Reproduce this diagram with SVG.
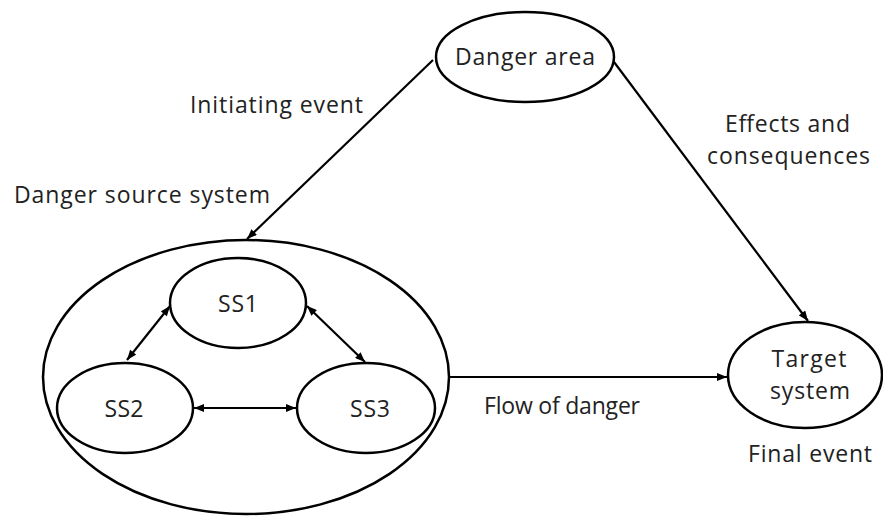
<svg xmlns="http://www.w3.org/2000/svg" width="883" height="516" viewBox="0 0 883 516">
<style>
.n{fill:#fff;stroke:#000;stroke-width:2.5}
.t{font-family:"Open Sans","Liberation Sans",Arial,sans-serif;font-size:23px;fill:#222}
.c{stroke:#000;stroke-width:2.2;fill:none}
</style>
<defs>
<marker id="a" viewBox="0 0 10 8" refX="10" refY="4" markerWidth="11" markerHeight="8" markerUnits="userSpaceOnUse" orient="auto-start-reverse">
<path d="M0,0 L10,4 L0,8 Z" fill="#000"/>
</marker>
</defs>
<rect width="883" height="516" fill="#fff"/>
<g id="danger-source-system">
<ellipse class="n" cx="246" cy="377" rx="203" ry="137"/>
</g>
<g id="ss1">
<ellipse class="n" cx="238" cy="303" rx="68" ry="45"/>
<text class="t" x="238" y="312" text-anchor="middle" textLength="40">SS1</text>
</g>
<g id="ss2">
<ellipse class="n" cx="125" cy="408" rx="68" ry="45"/>
<text class="t" x="124" y="417" text-anchor="middle" textLength="39">SS2</text>
</g>
<g id="ss3">
<ellipse class="n" cx="366" cy="408" rx="69" ry="45"/>
<text class="t" x="370" y="417" text-anchor="middle" textLength="40">SS3</text>
</g>
<g id="danger-area">
<ellipse class="n" cx="525" cy="57" rx="89" ry="45"/>
<text class="t" x="525" y="65" text-anchor="middle" textLength="140">Danger area</text>
</g>
<g id="target-system">
<ellipse class="n" cx="805" cy="375" rx="77" ry="53"/>
<text class="t" x="809" y="367" text-anchor="middle" textLength="75">Target</text>
<text class="t" x="810" y="399" text-anchor="middle" textLength="80">system</text>
</g>
<g id="connectors">
<line class="c" x1="433" y1="60" x2="247" y2="239" marker-end="url(#a)"/>
<line class="c" x1="614" y1="62" x2="808" y2="321" marker-end="url(#a)"/>
<line class="c" x1="449" y1="377" x2="727" y2="377" marker-end="url(#a)"/>
<line class="c" x1="170" y1="306" x2="127" y2="360" marker-start="url(#a)" marker-end="url(#a)"/>
<line class="c" x1="307" y1="306" x2="365" y2="362" marker-start="url(#a)" marker-end="url(#a)"/>
<line class="c" x1="194" y1="408" x2="296" y2="408" marker-start="url(#a)" marker-end="url(#a)"/>
</g>
<g id="labels">
<text class="t" x="190" y="113" textLength="173">Initiating event</text>
<text class="t" x="725" y="132" textLength="125">Effects and</text>
<text class="t" x="707" y="164" textLength="163">consequences</text>
<text class="t" x="14" y="203" textLength="256">Danger source system</text>
<text class="t" x="484" y="414" textLength="156">Flow of danger</text>
<text class="t" x="748" y="462" textLength="124">Final event</text>
</g>
</svg>
